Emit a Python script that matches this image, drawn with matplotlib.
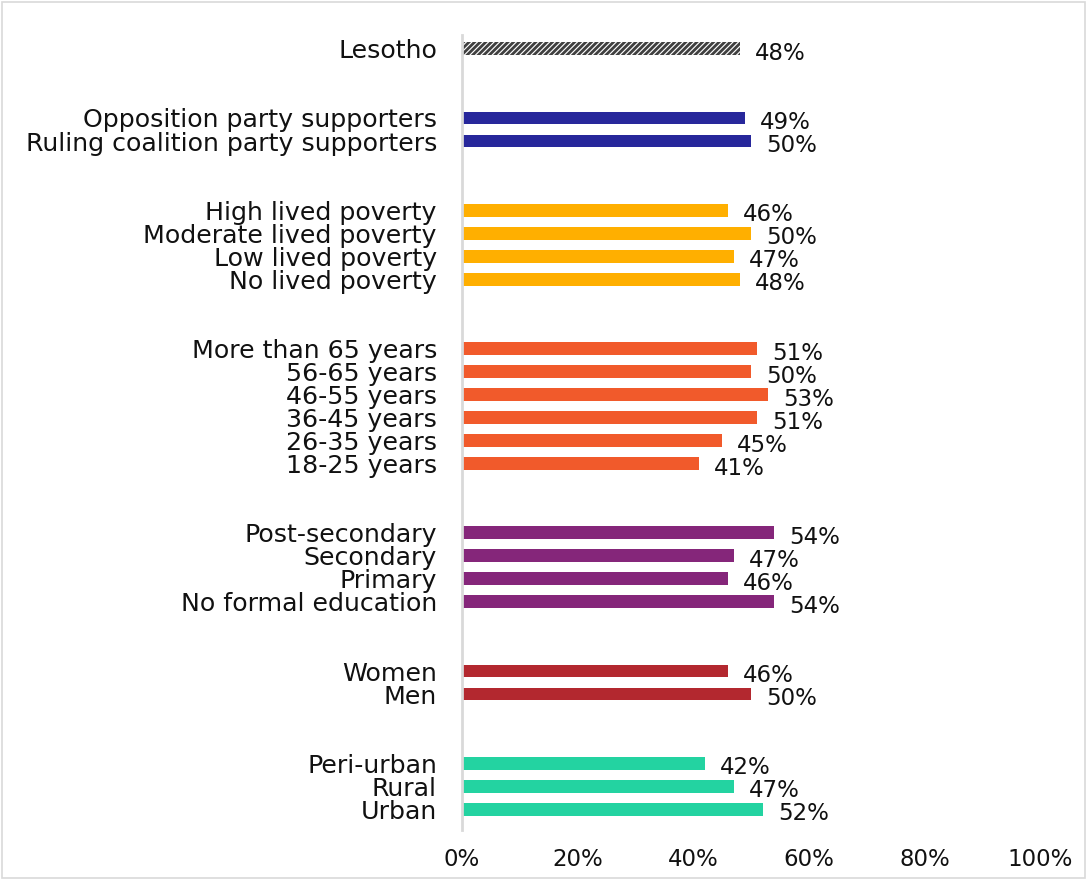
import matplotlib
matplotlib.use("Agg")
import matplotlib.pyplot as plt
from matplotlib.patches import Rectangle

plt.rcParams['font.family'] = ['DejaVu Sans']
plt.rcParams['hatch.linewidth'] = 2.0

categories = ["Lesotho",
              "Opposition party supporters", "Ruling coalition party supporters",
              "High lived poverty", "Moderate lived poverty", "Low lived poverty", "No lived poverty",
              "More than 65 years", "56-65 years", "46-55 years", "36-45 years", "26-35 years", "18-25 years",
              "Post-secondary", "Secondary", "Primary", "No formal education",
              "Women", "Men",
              "Peri-urban", "Rural", "Urban"]
values = [48,
          49, 50,
          46, 50, 47, 48,
          51, 50, 53, 51, 45, 41,
          54, 47, 46, 54,
          46, 50,
          42, 47, 52]
group_sizes = [1, 2, 4, 6, 4, 2, 3]
group_colors = ["#404040", "#27279B", "#FFAF00", "#F15A2B", "#85267A", "#B3282F", "#23D3A1"]
xticks = [0, 20, 40, 60, 80, 100]

fig = plt.figure(figsize=(10.87, 8.8), dpi=100)
fig.patches.append(Rectangle((0.002, 0.002), 0.996, 0.996, transform=fig.transFigure,
                             fill=False, edgecolor="#d9d9d9", linewidth=1.2))
ax = fig.add_axes([0.425, 1 - 830 / 880, 0.957 - 0.425, (830 - 35) / 880])

positions = []
colors = []
pos = 0
for gi, n in enumerate(group_sizes):
    for k in range(n):
        positions.append(pos)
        colors.append(group_colors[gi])
        pos += 1
    pos += 2

for i, (p, v, c) in enumerate(zip(positions, values, colors)):
    if i == 0:
        ax.barh(p, v, height=0.56, facecolor="white", edgecolor=c, hatch="//////", linewidth=0)
    else:
        ax.barh(p, v, height=0.56, color=c, linewidth=0)
    ax.text(v + 2.6, p + 0.2, f"{v}%", va="center", ha="left", fontsize=16.5, color="#111111")

ax.set_yticks(positions)
ax.set_yticklabels(categories, fontsize=18.2, color="#111111")
ax.set_xticks(xticks)
ax.set_xticklabels([f"{t}%" for t in xticks], fontsize=16.5, color="#111111")
ax.set_xlim(0, 100)
ax.set_ylim(33.9, -0.6)
ax.tick_params(axis="both", length=0)
ax.tick_params(axis="x", pad=13)
ax.tick_params(axis="y", pad=18)
for s in ["top", "right", "bottom"]:
    ax.spines[s].set_visible(False)
ax.spines["left"].set_color("#d9d9d9")
ax.spines["left"].set_linewidth(2)

fig.savefig("out.png", dpi=100)
